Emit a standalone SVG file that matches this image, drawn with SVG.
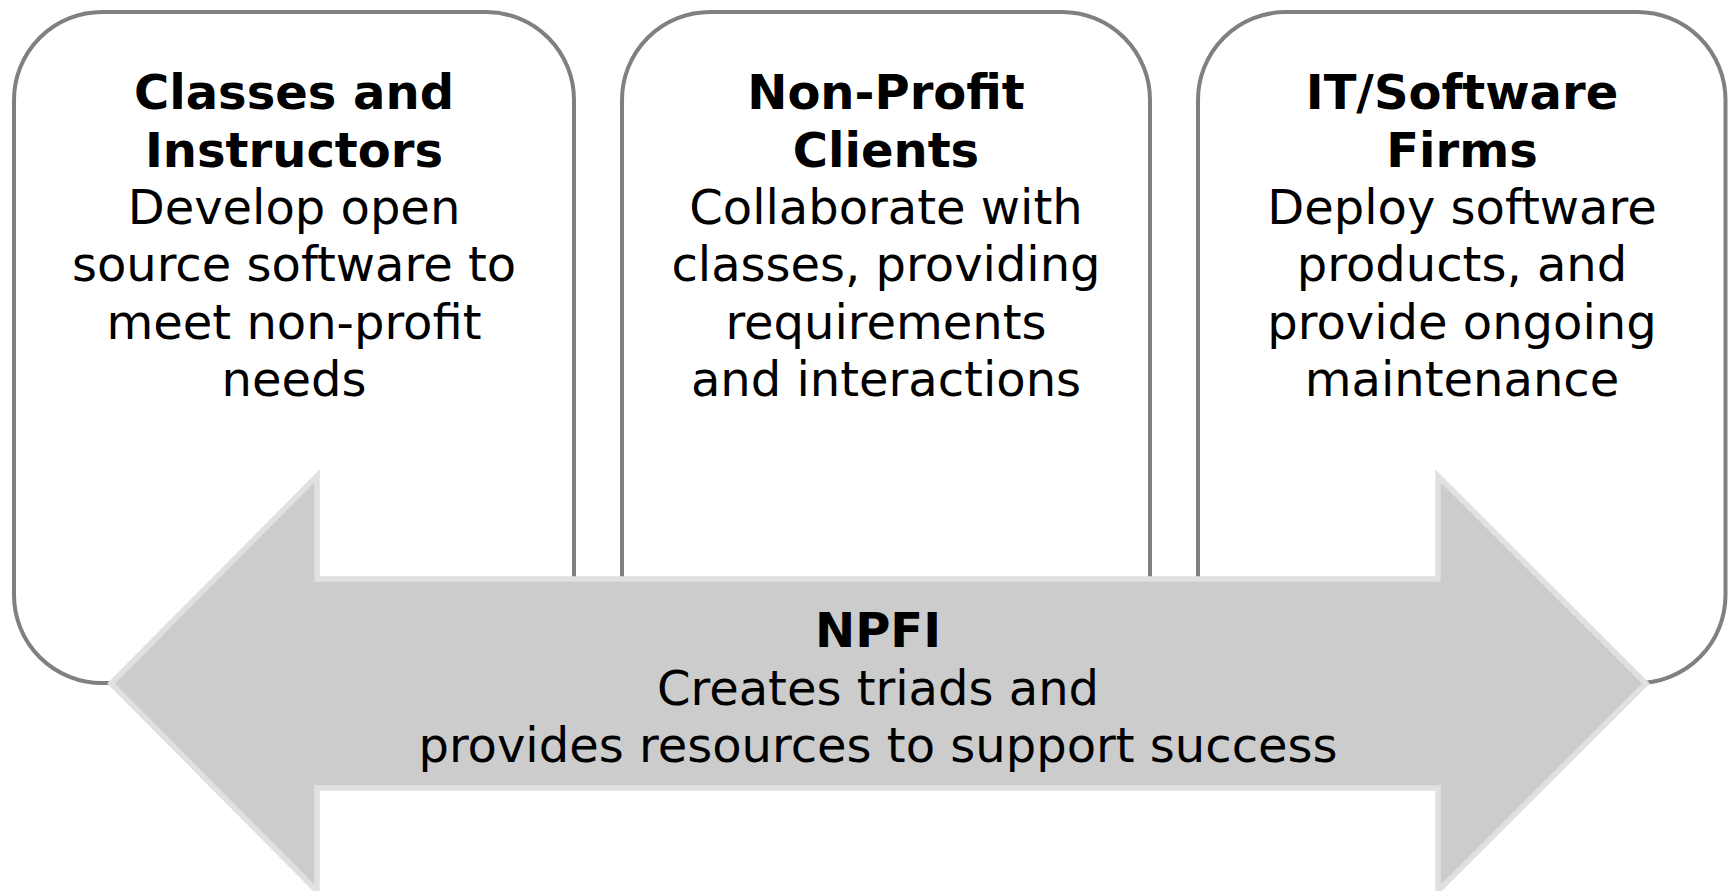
<svg xmlns="http://www.w3.org/2000/svg" width="1731" height="891" viewBox="0 0 1731 891">
<style>
.box{fill:#FFFFFF;stroke:#808080;stroke-width:4}
.arrow{fill:#CCCCCC;stroke:#E0E0E0;stroke-width:5.5;stroke-linejoin:miter}
text{font-family:"DejaVu Sans","Verdana",sans-serif;font-size:48px;fill:#000000;text-anchor:middle}
.t{font-weight:bold}
</style>
<rect width="1731" height="891" fill="#FFFFFF"/>
<g id="node-classes">
<rect class="box" x="14" y="12" width="560" height="671" rx="88" ry="88"/>
<text class="t" x="294" y="109">Classes and</text>
<text class="t" x="294" y="166.5">Instructors</text>
<text x="294" y="224">Develop open</text>
<text x="294" y="281">source software to</text>
<text x="294" y="338.5">meet non-profit</text>
<text x="294" y="396">needs</text>
</g>
<g id="node-nonprofit">
<rect class="box" x="622" y="12" width="528" height="671" rx="88" ry="88"/>
<text class="t" x="886" y="109">Non-Profit</text>
<text class="t" x="886" y="166.5">Clients</text>
<text x="886" y="224">Collaborate with</text>
<text x="886" y="281">classes, providing</text>
<text x="886" y="338.5">requirements</text>
<text x="886" y="396">and interactions</text>
</g>
<g id="node-it">
<rect class="box" x="1198" y="12" width="527.5" height="671" rx="88" ry="88"/>
<text class="t" x="1462" y="109">IT/Software</text>
<text class="t" x="1462" y="166.5">Firms</text>
<text x="1462" y="224">Deploy software</text>
<text x="1462" y="281">products, and</text>
<text x="1462" y="338.5">provide ongoing</text>
<text x="1462" y="396">maintenance</text>
</g>
<g id="connectors">
<g id="node-npfi">
<polygon class="arrow" points="111,683.5 317,476 317,579 1438,579 1438,476 1646,683.5 1438,891 1438,788 317,788 317,891"/>
<text class="t" x="878" y="647">NPFI</text>
<text x="878" y="704.5">Creates triads and</text>
<text x="878" y="762">provides resources to support success</text>
</g>
</g>
</svg>
